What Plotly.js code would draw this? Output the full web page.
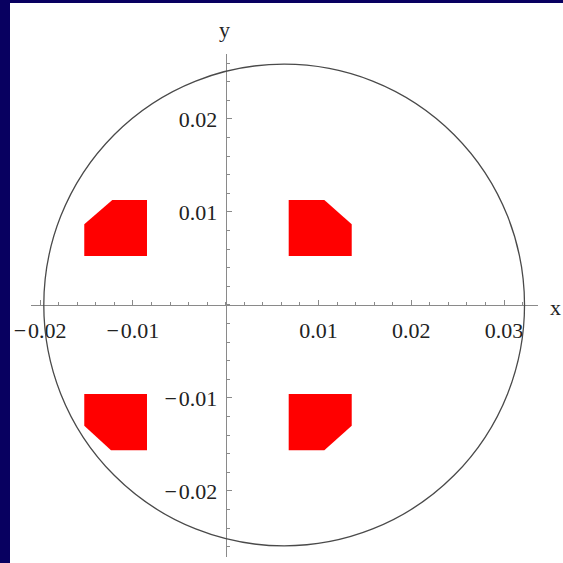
<!DOCTYPE html>
<html>
<head>
<meta charset="utf-8">
<script src="https://cdn.plot.ly/plotly-3.0.1.min.js"></script>
<style>
  html, body { margin: 0; padding: 0; width: 563px; height: 563px; background: #080060; overflow: hidden; }
  #chart { position: absolute; left: 10px; top: 3px; width: 553px; height: 560px; background: #ffffff; }
</style>
</head>
<body>
<div id="chart"></div>
<script>
// ---- data ----
const xTickVals = [-0.02, -0.01, 0.01, 0.02, 0.03];
const xTickText = ["\u2212\u200A0.02", "\u2212\u200A0.01", "0.01", "0.02", "0.03"];
const yTickVals = [-0.02, -0.01, 0.01, 0.02];
const yTickText = ["\u2212\u200A0.02", "\u2212\u200A0.01", "0.01", "0.02"];

// circle
const circleCenter = [0.0063, 0.0];
const circleRadius = 0.0259;

// red polygons (vertex lists, data coordinates)
const upperLeftX  = [-0.01524, -0.01222, -0.00848, -0.00848, -0.01524];
const upperLeftY  = [ 0.00868,  0.01129,  0.01129,  0.00527,  0.00527];
const upperRightX = [ 0.00679,  0.01063,  0.01358,  0.01358,  0.00679];
const upperRightY = [ 0.01129,  0.01129,  0.00868,  0.00527,  0.00527];
const lowerLeftX  = [-0.01524, -0.00848, -0.00848, -0.01236, -0.01524];
const lowerLeftY  = [-0.00957, -0.00957, -0.01562, -0.01562, -0.01298];
const lowerRightX = [ 0.00679,  0.01358,  0.01358,  0.01063,  0.00679];
const lowerRightY = [-0.00957, -0.00957, -0.01298, -0.01562, -0.01562];

const polys = [
  [upperLeftX, upperLeftY],
  [upperRightX, upperRightY],
  [lowerLeftX, lowerLeftY],
  [lowerRightX, lowerRightY]
];

const traces = polys.map(p => ({
  type: 'scatter',
  x: p[0], y: p[1],
  mode: 'lines',
  fill: 'toself',
  fillcolor: '#ff0000',
  line: { width: 0, color: '#ff0000' },
  hoverinfo: 'skip'
}));

const tickFont = { family: 'Liberation Serif, Times New Roman, serif', size: 22, color: '#222222' };
const axisCol = '#8a8a8a';

const layout = {
  width: 553, height: 560,
  margin: { l: 0, r: 0, t: 0, b: 0, pad: 0 },
  paper_bgcolor: '#ffffff',
  plot_bgcolor: '#ffffff',
  showlegend: false,
  xaxis: {
    domain: [0.0374, 0.9548],
    range: [-0.021013, 0.033653],
    anchor: 'free', position: 0.46071,
    showline: true, linecolor: axisCol, linewidth: 1,
    zeroline: false, showgrid: false,
    tickmode: 'array', tickvals: xTickVals, ticktext: xTickText,
    ticks: 'inside', ticklen: 5, tickcolor: axisCol, tickwidth: 1,
    minor: { tickmode: 'linear', tick0: 0, dtick: 0.002, ticks: 'inside', ticklen: 3, tickcolor: axisCol, showgrid: false },
    tickfont: tickFont,
    ticklabelstandoff: 6,
    fixedrange: true
  },
  yaxis: {
    domain: [0.01071, 0.90893],
    range: [-0.027097, 0.026989],
    anchor: 'free', position: 0.39006,
    showline: true, linecolor: axisCol, linewidth: 1,
    zeroline: false, showgrid: false,
    tickmode: 'array', tickvals: yTickVals, ticktext: yTickText,
    ticks: 'inside', ticklen: 5, tickcolor: axisCol, tickwidth: 1,
    minor: { tickmode: 'linear', tick0: 0, dtick: 0.002, ticks: 'inside', ticklen: 3, tickcolor: axisCol, showgrid: false },
    tickfont: tickFont,
    ticklabelstandoff: 4,
    fixedrange: true
  },
  shapes: [{
    type: 'circle', xref: 'x', yref: 'y',
    x0: circleCenter[0] - circleRadius, x1: circleCenter[0] + circleRadius,
    y0: circleCenter[1] - circleRadius, y1: circleCenter[1] + circleRadius,
    line: { color: '#4a4a4a', width: 1.3 },
    fillcolor: 'rgba(0,0,0,0)',
    layer: 'above'
  }],
  annotations: [
    { text: 'x', xref: 'paper', yref: 'paper', x: 0.9873, y: 0.4554, showarrow: false,
      xanchor: 'center', yanchor: 'middle', font: tickFont },
    { text: 'y', xref: 'paper', yref: 'paper', x: 0.3879, y: 0.9518, showarrow: false,
      xanchor: 'center', yanchor: 'middle', font: tickFont }
  ]
};

Plotly.newPlot('chart', traces, layout, { staticPlot: true, displayModeBar: false });
</script>
</body>
</html>
